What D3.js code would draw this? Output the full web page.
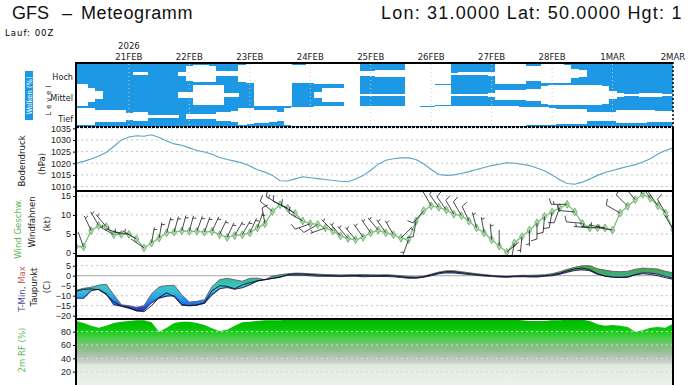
<!DOCTYPE html>
<html lang="de">
<head>
<meta charset="utf-8">
<script src="https://d3js.org/d3.v7.min.js"></script>
<style>
  html, body { margin: 0; padding: 0; background: #fff; }
  svg { display: block; font-family: 'Liberation Sans Narrow', 'DejaVu Sans Condensed', 'Liberation Sans', Arial, sans-serif; }
  .tick text { font-size: 9px; fill: #222; }
  .tick line { stroke: #000; }
  .lbl { font-size: 9.5px; fill: #222; }
  .grid line { stroke: #c4c4c4; stroke-dasharray: 2,3; }
  .title { font-family: 'Liberation Sans', Arial, sans-serif; font-size: 18px; fill: #111; }
</style>
</head>
<body>
<script>
// forecast hours since 20FEB 00Z (3-hourly)
var hours = [3,6,9,12,15,18,21,24, 27,30,33,36,39,42,45,48, 51,54,57,60,63,66,69,72,
             75,78,81,84,87,90,93,96, 99,102,105,108,111,114,117,120, 123,126,129,132,135,138,141,144,
             147,150,153,156,159,162,165,168, 171,174,177,180,183,186,189,192,
             195,198,201,204,207,210,213,216, 219,222,225,228,231,234,237,240];

var dayHours = [24,48,72,96,120,144,168,192,216,240];
var dayLabels = ["21FEB","22FEB","23FEB","24FEB","25FEB","26FEB","27FEB","28FEB","1MAR","2MAR"];

// cloud cover (%) per level
var levels = ["Hoch","Mittel","Tief"];
var cloudHigh = [100,100,100,100,100,100,100,100, 85,85,100,100,100,100,80,30, 20,20,25,75,75,75,20,10,
                 0,0,0,0,5,15,15,10, 0,0,0,0,0,0,75,75, 70,70,70,70,0,0,0,0,
                 0,0,90,85,85,85,85,80, 0,0,0,0,30,30,10,10, 10,15,55,65,100,100,100,100,
                 100,100,100,100,100,100,100,100];
var cloudMid = [0,0,35,65,100,100,100,100, 100,100,100,100,100,100,70,70, 10,10,10,10,85,85,100,100,
                0,0,0,0,0,100,100,100, 70,30,30,30,0,0,90,90, 90,90,90,90,0,0,0,0,
                10,10,95,95,95,95,95,80, 50,50,50,50,45,40,20,10, 10,10,10,10,10,10,20,60,
                85,90,90,85,85,85,90,90];
var cloudLow = [20,20,20,45,45,45,45,65, 60,60,85,85,85,85,100,75, 75,75,75,60,60,50,20,25,
                40,40,45,55,20,10,10,10, 5,5,5,5,5,5,5,5, 5,5,5,5,5,5,10,10,
                5,5,5,5,5,5,5,5, 5,5,5,10,15,15,15,20, 30,30,30,30,55,55,55,55,
                40,40,40,40,45,50,50,50];

// surface pressure (hPa)
var pressure = [1020.0,1020.8,1021.8,1023.1,1024.6,1027.2,1030.0,1031.3,
                1031.8,1031.6,1032.2,1031.0,1029.5,1028.3,1027.7,1026.6,
                1025.5,1024.8,1023.9,1022.5,1021.6,1020.9,1020.1,1018.8,
                1017.2,1016.2,1014.8,1012.5,1012.4,1013.3,1014.2,1013.8,
                1013.4,1013.0,1012.6,1012.3,1012.1,1013.2,1014.7,1017.0,
                1019.6,1021.3,1021.9,1022.3,1022.3,1021.6,1019.8,1017.3,
                1015.2,1014.8,1015.0,1015.6,1016.4,1017.3,1018.2,1019.0,
                1019.6,1020.2,1020.0,1019.6,1019.0,1018.0,1016.8,1015.0,
                1012.9,1011.3,1011.0,1011.9,1013.3,1014.8,1016.0,1016.9,
                1017.8,1018.6,1019.4,1020.5,1021.9,1024.0,1025.5,1026.5];

// wind speed (kt) and direction (deg, from)
var windSpeed = [1.7,1.6,5.9,7.2,6.9,4.8,4.9,4.9, 3.7,1.3,2.6,3.9,5.3,5.5,5.8,5.7,
                 5.7,5.5,5.7,4.8,4.1,4.6,4.8,5.3, 6.6,7.7,10.9,12.7,11.8,10.4,8.4,7.7,
                 7.5,6.6,5.8,4.5,3.8,3.5,4.1,5.3, 6.0,5.3,4.8,3.9,3.5,8.4,11.1,12.4,
                 12.0,11.3,10.2,9.8,8.4,6.6,5.3,3.5, 1.8,0.2,2.6,4.3,6.0,7.9,9.6,10.8,
                 11.9,12.8,10.8,7.8,6.6,6.6,6.6,6.0, 10.5,12.3,14.0,15.4,14.4,12.4,10.5,6.2];
var windDir = [340,340,335,330,320,300,290,280, 300,305,10,10,15,15,15,15,
               20,20,25,25,25,30,30,25, 20,350,310,300,295,300,300,250,
               240,250,315,320,320,320,325,325, 320,325,330,45,200,190,220,330,
               325,325,330,330,335,345,350,355, 0,50,190,185,180,180,185,190,
               200,270,275,275,275,275,280,280, 300,315,320,320,325,325,330,330];

// 2m temperature (C)
var tMax = [-7.3,-6.3,-5.8,-4.7,-4.3,-9.5,-14.5,-15.0, -15.8,-15.0,-9.0,-5.6,-4.9,-4.8,-9.5,-13.2,
            -12.8,-12.0,-5.5,-2.0,-1.3,-2.0,-2.8,-1.3, -1.2,-2.0,-0.2,0.5,1.0,1.3,1.2,1.0,
            0.8,0.6,0.5,0.4,0.5,0.5,0.6,0.5, 0.4,0.5,0.3,0.0,-0.4,-0.6,-0.2,0.8,
            1.8,2.5,2.5,2.0,1.5,1.0,0.6,0.2, -0.1,-0.3,0.0,0.2,0.2,0.3,0.5,1.0,
            2.0,3.2,4.2,5.0,5.0,3.5,2.8,2.2, 2.0,2.2,3.2,3.8,3.6,3.3,2.2,1.5];
var tMin = [-11.3,-11.3,-7.5,-6.8,-9.0,-14.5,-15.2,-16.3, -17.5,-17.3,-13.5,-11.2,-10.2,-10.0,-14.3,-15.0,
            -14.8,-13.8,-9.5,-6.5,-5.9,-6.8,-6.0,-4.5, -2.6,-2.0,-1.3,-0.6,0.2,0.3,0.2,0.0,
            -0.2,-0.3,-0.3,-0.4,-0.3,-0.2,-0.5,-0.4, -0.3,-0.4,-0.5,-0.9,-1.2,-1.3,-0.8,0.0,
            1.0,1.5,1.4,1.0,0.6,0.2,-0.1,-0.4, -0.6,-0.8,-0.5,-0.4,-0.6,-0.6,-0.3,0.0,
            0.8,1.8,2.6,3.0,2.5,0.8,0.0,-0.5, -0.8,-0.6,0.6,1.5,1.3,0.8,-0.4,-1.2];
var dewPoint = [-7.8,-6.8,-6.6,-7.0,-9.5,-13.0,-15.2,-15.8, -17.6,-18.0,-15.0,-10.8,-8.6,-10.5,-14.8,-15.0,
                -14.6,-13.5,-7.5,-5.0,-5.3,-6.5,-4.6,-3.5, -2.6,-1.9,-1.4,-0.8,0.5,0.9,0.9,0.6,
                0.3,0.1,0.0,-0.1,0.0,0.1,0.0,-0.1, 0.0,0.1,-0.1,-0.5,-0.9,-1.0,-0.5,0.4,
                1.4,2.0,2.0,1.5,1.0,0.6,0.2,-0.1, -0.3,-0.5,-0.3,-0.1,-0.2,-0.2,0.0,0.4,
                1.2,2.4,3.4,3.8,3.0,1.0,-0.3,-0.8, -0.9,-0.8,0.4,1.0,0.6,0.0,-1.0,-1.8];

// 2m relative humidity (%)
var relHum = [96,93,89,86,89,93,95,96, 97,97,94,80,86,93,95,95, 93,90,85,81,83,89,94,95,
              96,97,97,97,98,98,98,98, 98,98,98,98,98,98,98,98, 98,98,98,98,98,98,98,98,
              98,98,98,98,98,98,98,98, 98,98,98,97,96,96,96,97, 97,98,98,98,96,91,89,90,
              89,87,80,82,86,87,86,92];

var pTicks = [1010,1015,1020,1025,1030,1035];
var wTicks = [0,5,10,15];
var tTicks = [5,0,-5,-10,-15,-20];
var rTicks = [20,40,60,80];

var W = 696, H = 385;
var X0 = 76, X1 = 673;

var svg = d3.select("body").append("svg")
    .attr("width", W)
    .attr("height", H);

var defs = svg.append("defs");
defs.append("clipPath").attr("id", "plotclip")
    .append("rect").attr("x", X0).attr("y", 60).attr("width", X1 - X0).attr("height", H - 60);
defs.append("clipPath").attr("id", "windclip")
    .append("rect").attr("x", X0).attr("y", 192).attr("width", X1 - X0).attr("height", 63);

var x = d3.scaleLinear().domain([3, 240]).range([X0, X1]);
var yB = d3.scaleBand().domain(levels).range([63, 127]);
var yP = d3.scaleLinear().domain([1008.1, 1035.55]).range([191, 127]);
var yW = d3.scaleLinear().domain([-0.8, 16.3]).range([256, 191]);
var yT = d3.scaleLinear().domain([-21.65, 9.85]).range([319, 256]);
var yR = d3.scaleLinear().domain([0, 99]).range([385, 319]);

// ---------- titles ----------
svg.append("text").attr("class", "title").attr("x", 12).attr("y", 19).text("GFS");
svg.append("text").attr("class", "title").attr("x", 62).attr("y", 19).text("–");
svg.append("text").attr("class", "title").attr("x", 81).attr("y", 19).style("letter-spacing", "0.6px").text("Meteogramm");
svg.append("text").attr("class", "title").attr("x", 381).attr("y", 19).style("letter-spacing", "1.2px")
    .text("Lon: 31.0000 Lat: 50.0000 Hgt: 1");
svg.append("text").attr("x", 5).attr("y", 36).style("font-size", "9.5px").style("letter-spacing", "1px").text("Lauf: 00Z");

svg.append("text").attr("class", "lbl").attr("x", x(24)).attr("y", 49).attr("text-anchor", "middle").text("2026");
svg.selectAll(".daylbl").data(dayHours).enter().append("text")
    .attr("class", "lbl")
    .attr("x", function(d) { return x(d); })
    .attr("y", 60)
    .attr("text-anchor", "middle")
    .text(function(d, i) { return dayLabels[i]; });

// ---------- clouds ----------
var cg = svg.append("g").attr("clip-path", "url(#plotclip)").attr("shape-rendering", "crispEdges");
var cloudSets = [cloudHigh, cloudMid, cloudLow];
var bw = yB.bandwidth();
cg.selectAll(".cb").data(hours).enter().append("rect")
    .attr("x", function(d) { return x(d - 1.5); })
    .attr("width", function(d) { return x(d + 1.5) - x(d - 1.5) + 0.5; })
    .attr("y", yB.range()[0])
    .attr("height", yB.range()[1] - yB.range()[0])
    .attr("fill", "#1c98e4");
cloudSets.forEach(function(arr, li) {
    var lev = levels[li];
    cg.selectAll(".cw" + li).data(arr).enter().append("rect")
        .attr("x", function(d, i) { return x(hours[i] - 1.5); })
        .attr("width", function(d, i) { return x(hours[i] + 1.5) - x(hours[i] - 1.5) + 0.5; })
        .attr("y", function(d) { return yB(lev) + bw * (d / 100) / 2; })
        .attr("height", function(d) { return bw * (1 - d / 100); })
        .attr("fill", "#fff");
});
svg.selectAll(".cday").data(dayHours).enter().append("line")
    .attr("x1", function(d) { return x(d); }).attr("x2", function(d) { return x(d); })
    .attr("y1", 64).attr("y2", 126)
    .attr("stroke", "#c8d0d8").attr("stroke-dasharray", "1,3");

// ---------- helpers ----------
function grid(scale, ticks) {
    var g = svg.append("g").attr("class", "grid");
    g.selectAll("line").data(ticks).enter().append("line")
        .attr("x1", X0).attr("x2", X1)
        .attr("y1", function(d) { return scale(d); })
        .attr("y2", function(d) { return scale(d); });
    return g;
}
function axis(scale, ticks) {
    svg.append("g")
        .attr("transform", "translate(" + X0 + ",0)")
        .call(d3.axisLeft(scale).tickValues(ticks).tickSize(3).tickPadding(2).tickFormat(d3.format("d")))
        .call(function(g) { g.select(".domain").remove(); });
}

// ---------- pressure ----------
grid(yP, pTicks);
svg.append("path")
    .datum(pressure)
    .attr("fill", "none")
    .attr("stroke", "#5aa3c4")
    .attr("stroke-width", 1.1)
    .attr("d", d3.line().x(function(d, i) { return x(hours[i]); }).y(function(d) { return yP(d); }));
axis(yP, pTicks);

// ---------- wind ----------
grid(yW, [5, 10, 15]);
var wg = svg.append("g").attr("clip-path", "url(#windclip)");
wg.append("path")
    .datum(windSpeed)
    .attr("fill", "none")
    .attr("stroke", "#78bf78")
    .attr("stroke-width", 1.3)
    .attr("d", d3.line().x(function(d, i) { return x(hours[i]); }).y(function(d) { return yW(d); }));
wg.selectAll(".wm").data(windSpeed).enter().append("path")
    .attr("transform", function(d, i) { return "translate(" + x(hours[i]) + "," + yW(d) + ")"; })
    .attr("d", d3.symbol(d3.symbolDiamond, 18))
    .attr("fill", "#b0dcb0")
    .attr("stroke", "#66a866")
    .attr("stroke-width", 0.8);

function barbPath(px, py, spd, dir) {
    var L = 16, r = dir * Math.PI / 180;
    var ux = Math.sin(r), uy = -Math.cos(r);
    var nx = -uy, ny = ux;
    var tx = px + ux * L, ty = py + uy * L;
    var p = "M" + px + "," + py + "L" + tx + "," + ty;
    var s = Math.round(spd / 5) * 5, pos = 0;
    while (s >= 10) {
        var bx = tx - ux * pos, by = ty - uy * pos;
        p += "M" + bx + "," + by + "l" + (nx * 6 + ux * 2) + "," + (ny * 6 + uy * 2);
        pos += 3; s -= 10;
    }
    if (s >= 5) {
        if (pos === 0) pos = 2.5;
        var hx = tx - ux * pos, hy = ty - uy * pos;
        p += "M" + hx + "," + hy + "l" + (nx * 3.2 + ux * 1) + "," + (ny * 3.2 + uy * 1);
    }
    return p;
}
wg.selectAll(".barb").data(windSpeed).enter().append("path")
    .attr("d", function(d, i) { return barbPath(x(hours[i]), yW(d), d, windDir[i]); })
    .attr("fill", "none")
    .attr("stroke", "#1a1a1a")
    .attr("stroke-width", 0.8);
axis(yW, wTicks);

// ---------- temperature ----------
grid(yT, [5, -5, -10, -15, -20]);
svg.append("line").attr("x1", X0).attr("x2", X1).attr("y1", yT(0)).attr("y2", yT(0))
    .attr("stroke", "#b8b8b8").attr("stroke-width", 1.2);
var tStops = [[10, "#3d9a3d"], [3, "#4aa84e"], [0.5, "#3aae80"], [-2, "#32bca0"], [-5, "#3cc4c4"],
              [-8, "#36bcd6"], [-11, "#2a9ee6"], [-13.5, "#1e7cf0"], [-15.5, "#2454dc"], [-17, "#3030c0"], [-22, "#3a1e96"]];
var tg = defs.append("linearGradient").attr("id", "tgrad")
    .attr("gradientUnits", "userSpaceOnUse")
    .attr("x1", 0).attr("x2", 0).attr("y1", yT(10)).attr("y2", yT(-22));
tStops.forEach(function(s) {
    tg.append("stop").attr("offset", (10 - s[0]) / 32).attr("stop-color", s[1]);
});
svg.append("path")
    .datum(hours)
    .attr("fill", "url(#tgrad)")
    .attr("d", d3.area()
        .x(function(d) { return x(d); })
        .y0(function(d, i) { return yT(tMin[i]); })
        .y1(function(d, i) { return yT(tMax[i]); }));
function tline(arr, col, w) {
    svg.append("path").datum(arr)
        .attr("fill", "none").attr("stroke", col).attr("stroke-width", w)
        .attr("d", d3.line().x(function(d, i) { return x(hours[i]); }).y(function(d) { return yT(d); }));
}
tline(tMax, "#6a5a66", 0.9);
tline(tMin, "#2c2c7c", 1.1);
tline(dewPoint, "#111", 0.9);
axis(yT, tTicks);

// ---------- relative humidity ----------
var rStops = [[100, "#00b800"], [86, "#06c406"], [80, "#1ccd1c"], [70, "#4ccd4c"], [60, "#78c478"],
              [50, "#98bf98"], [42, "#b4c4b4"], [34, "#c9d2c9"], [30, "#e0eae0"], [0, "#eaf3ea"]];
var rg = defs.append("linearGradient").attr("id", "rgrad")
    .attr("gradientUnits", "userSpaceOnUse")
    .attr("x1", 0).attr("x2", 0).attr("y1", yR(100)).attr("y2", yR(0));
rStops.forEach(function(s) {
    rg.append("stop").attr("offset", (100 - s[0]) / 100).attr("stop-color", s[1]);
});
svg.append("path")
    .datum(relHum)
    .attr("fill", "url(#rgrad)")
    .attr("d", d3.area()
        .x(function(d, i) { return x(hours[i]); })
        .y0(yR(0))
        .y1(function(d) { return yR(d); }));
grid(yR, rTicks).selectAll("line").style("stroke", "#d4dcd4");
axis(yR, rTicks);

// ---------- frames ----------
var fr = svg.append("g").attr("stroke", "#000").attr("fill", "none");
fr.append("line").attr("x1", X0).attr("x2", X1).attr("y1", 63).attr("y2", 63).attr("stroke-width", 2);
fr.append("line").attr("x1", X0).attr("x2", X1).attr("y1", 127).attr("y2", 127).attr("stroke-width", 2).attr("stroke-dasharray", "3,1");
[191, 256, 319].forEach(function(yy) {
    fr.append("line").attr("x1", X0).attr("x2", X1).attr("y1", yy).attr("y2", yy).attr("stroke-width", 2);
});
fr.append("line").attr("x1", X0).attr("x2", X0).attr("y1", 62).attr("y2", H).attr("stroke-width", 2);
fr.append("line").attr("x1", X1).attr("x2", X1).attr("y1", 62).attr("y2", 127).attr("stroke-width", 1.5).attr("stroke-dasharray", "2,2");
fr.append("line").attr("x1", X1).attr("x2", X1).attr("y1", 127).attr("y2", H).attr("stroke-width", 2);

// ---------- left labels ----------
function vtext(tx, ty, txt, col, size) {
    return svg.append("text")
        .attr("transform", "translate(" + tx + "," + ty + ") rotate(-90)")
        .attr("text-anchor", "middle")
        .attr("dominant-baseline", "central")
        .style("font-size", (size || 9.5) + "px")
        .attr("fill", col || "#222")
        .text(txt);
}
svg.append("rect").attr("x", 25).attr("y", 71).attr("width", 8).attr("height", 49).attr("fill", "#1c98e4");
vtext(29, 95.5, "Wolken (%)", "#fff", 7.5);
vtext(48, 99, "Level", "#222", 7.5).style("letter-spacing", "3px");
svg.selectAll(".levlbl").data(levels).enter().append("text")
    .attr("x", 73)
    .attr("y", function(d) { return yB(d) + bw / 2 + 6; })
    .attr("text-anchor", "end")
    .style("font-size", "9px")
    .attr("fill", "#222")
    .text(function(d) { return d; });

vtext(21, 161, "Bodendruck");
vtext(41, 164, "(hPa)");
vtext(17, 229, "Wind Geschw.", "#5cb85c");
vtext(31, 222, "Windfahnen");
vtext(46, 224, "(kt)");
var tm = vtext(21, 289, "", "#222");
tm.append("tspan").attr("fill", "#4a4a9a").text("T-Min, ");
tm.append("tspan").attr("fill", "#d06060").text("Max");
vtext(33, 287, "Taupunkt");
vtext(46, 287, "(C)");
vtext(21, 350, "2m RF (%)", "#5cb85c");
</script>
</body>
</html>
